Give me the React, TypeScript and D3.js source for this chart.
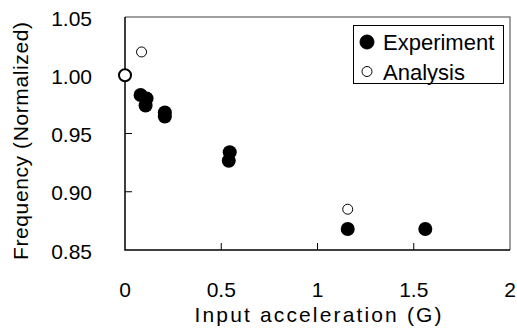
import * as d3 from "d3";
import { useRef, useEffect } from "react";

// experiment points (input acceleration G, normalized frequency)
const expX = [0.081, 0.112, 0.107, 0.207, 0.207, 0.544, 0.539, 1.157, 1.56];
const expY = [0.983, 0.98, 0.974, 0.968, 0.9646, 0.934, 0.9266, 0.868, 0.868];

// analysis points
const anaX = [0, 0.086, 1.157];
const anaY = [1.0, 1.02, 0.885];

const xTicks = [0, 0.5, 1, 1.5, 2];
const xTickLabels = ["0", "0.5", "1", "1.5", "2"];
const yTicks = [0.85, 0.9, 0.95, 1.0, 1.05];
const yTickLabels = ["0.85", "0.90", "0.95", "1.00", "1.05"];

const legendLabels = ["Experiment", "Analysis"];

export default function App() {
  const svgRef = useRef<SVGSVGElement | null>(null);

  const width = 517;
  const height = 329;
  const marginLeft = 125;
  const marginRight = 7;
  const marginTop = 17;
  const marginBottom = 79;

  useEffect(() => {
    document.body.style.margin = "0";

    const x = d3.scaleLinear().domain([0, 2]).range([marginLeft, width - marginRight]);
    const y = d3.scaleLinear().domain([0.85, 1.05]).range([height - marginBottom, marginTop]);

    const svg = d3.select(svgRef.current);
    svg.selectAll("*").remove();

    const font = "'Liberation Sans', Arial, sans-serif";

    // frame: gray top and right
    svg
      .append("path")
      .attr("d", `M${x(0)},${y(1.05)}H${x(2)}V${y(0.85)}`)
      .attr("fill", "none")
      .attr("stroke", "#808080")
      .attr("stroke-width", 1.5);

    // axes (black left and bottom)
    svg
      .append("path")
      .attr("d", `M${x(0)},${y(1.05)}V${y(0.85)}H${x(2)}`)
      .attr("fill", "none")
      .attr("stroke", "#000")
      .attr("stroke-width", 1.5);

    // inward ticks
    svg
      .append("g")
      .selectAll("line")
      .data(xTicks.slice(1, -1))
      .join("line")
      .attr("x1", (d) => x(d))
      .attr("x2", (d) => x(d))
      .attr("y1", y(0.85))
      .attr("y2", y(0.85) - 7)
      .attr("stroke", "#000")
      .attr("stroke-width", 1);

    svg
      .append("g")
      .selectAll("line")
      .data(yTicks.slice(1, -1))
      .join("line")
      .attr("x1", x(0))
      .attr("x2", x(0) + 7)
      .attr("y1", (d) => y(d))
      .attr("y2", (d) => y(d))
      .attr("stroke", "#000")
      .attr("stroke-width", 1);

    // tick labels
    svg
      .append("g")
      .selectAll("text")
      .data(xTicks)
      .join("text")
      .attr("x", (d) => x(d))
      .attr("y", 297)
      .attr("text-anchor", "middle")
      .attr("font-family", font)
      .attr("font-size", 21)
      .attr("fill", "#000")
      .text((_, i) => xTickLabels[i]);

    svg
      .append("g")
      .selectAll("text")
      .data(yTicks)
      .join("text")
      .attr("x", 92)
      .attr("y", (d) => y(d) + 8.5)
      .attr("text-anchor", "end")
      .attr("font-family", font)
      .attr("font-size", 21)
      .attr("fill", "#000")
      .text((_, i) => yTickLabels[i]);

    // axis titles
    svg
      .append("text")
      .attr("x", 318)
      .attr("y", 322)
      .attr("text-anchor", "middle")
      .attr("font-family", font)
      .attr("font-size", 21)
      .attr("textLength", 247)
      .attr("fill", "#000")
      .text("Input acceleration (G)");

    svg
      .append("text")
      .attr("transform", `translate(28,141) rotate(-90)`)
      .attr("text-anchor", "middle")
      .attr("font-family", font)
      .attr("font-size", 21)
      .attr("textLength", 238)
      .attr("fill", "#000")
      .text("Frequency (Normalized)");

    // experiment markers
    svg
      .append("g")
      .selectAll("circle")
      .data(expX.map((v, i) => [v, expY[i]]))
      .join("circle")
      .attr("cx", (d) => x(d[0]))
      .attr("cy", (d) => y(d[1]))
      .attr("r", 7)
      .attr("fill", "#000");

    // analysis markers
    svg
      .append("g")
      .selectAll("circle")
      .data(anaX.map((v, i) => [v, anaY[i]]))
      .join("circle")
      .attr("cx", (d) => x(d[0]))
      .attr("cy", (d) => y(d[1]))
      .attr("r", (d) => (d[0] === 0 ? 6 : 5))
      .attr("fill", "#fff")
      .attr("stroke", "#000")
      .attr("stroke-width", (d) => (d[0] === 0 ? 2 : 1));

    // legend
    const legend = svg.append("g");
    legend
      .append("rect")
      .attr("x", 353.5)
      .attr("y", 25.5)
      .attr("width", 150)
      .attr("height", 58)
      .attr("fill", "#fff")
      .attr("stroke", "#000")
      .attr("stroke-width", 1);

    legendLabels.forEach((label, i) => {
      const cy = 42 + i * 29.5;
      legend
        .append("circle")
        .attr("cx", 367)
        .attr("cy", cy)
        .attr("r", i === 0 ? 7 : 5)
        .attr("fill", i === 0 ? "#000" : "#fff")
        .attr("stroke", "#000")
        .attr("stroke-width", 1);
      legend
        .append("text")
        .attr("x", 383)
        .attr("y", cy + 8)
        .attr("font-family", font)
        .attr("font-size", 22)
        .attr("fill", "#000")
        .text(label);
    });
  }, []);

  return <svg ref={svgRef} width={width} height={height} style={{ display: "block" }}></svg>;
}
